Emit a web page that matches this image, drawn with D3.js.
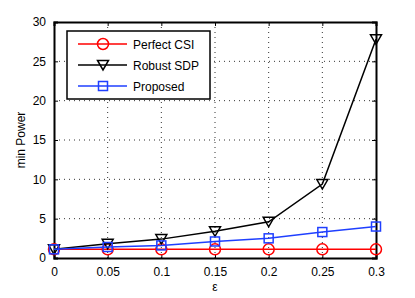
<!DOCTYPE html>
<html>
<head>
<meta charset="utf-8">
<script src="https://cdn.jsdelivr.net/npm/d3@7"></script>
<style>
  body { margin: 0; background: #fff; }
  text { font-family: "Liberation Sans", Arial, sans-serif; }
</style>
</head>
<body>
<div id="chart"></div>
<script>
// data
var epsilon = [0, 0.05, 0.1, 0.15, 0.2, 0.25, 0.3];
var perfectCSI = [1.1, 1.1, 1.1, 1.1, 1.1, 1.1, 1.1];
var robustSDP = [1.1, 1.8, 2.4, 3.4, 4.6, 9.4, 27.8];
var proposed = [1.1, 1.4, 1.6, 2.1, 2.5, 3.3, 4.0];
var xTicks = [0, 0.05, 0.1, 0.15, 0.2, 0.25, 0.3];
var yTicks = [0, 5, 10, 15, 20, 25, 30];
var seriesNames = ["Perfect CSI", "Robust SDP", "Proposed"];

var svgWidth = 415;
var svgHeight = 298;
var margin = { top: 22, right: 39, bottom: 40, left: 54 };
var width = svgWidth - margin.left - margin.right;
var height = svgHeight - margin.top - margin.bottom;

var svg = d3.select("#chart")
    .append("svg")
    .attr("width", svgWidth)
    .attr("height", svgHeight);

var g = svg.append("g")
    .attr("transform", `translate(${margin.left}, ${margin.top})`);

var x = d3.scaleLinear().domain([0, 0.3]).range([0, width]);
var y = d3.scaleLinear().domain([0, 30]).range([height, 0]);

// dotted grid
g.append("g").selectAll("line")
    .data(xTicks.slice(1, -1))
    .enter().append("line")
    .attr("x1", d => x(d)).attr("x2", d => x(d))
    .attr("y1", 0).attr("y2", height)
    .attr("stroke", "#333").attr("stroke-width", 1)
    .attr("stroke-dasharray", "1,4");

g.append("g").selectAll("line")
    .data(yTicks.slice(1, -1))
    .enter().append("line")
    .attr("y1", d => y(d)).attr("y2", d => y(d))
    .attr("x1", 0).attr("x2", width)
    .attr("stroke", "#333").attr("stroke-width", 1)
    .attr("stroke-dasharray", "1,4");

// axes with inward ticks
var bottomAxis = d3.axisBottom(x).tickValues(xTicks).tickSize(-4).tickPadding(9)
    .tickFormat(d => d3.format("")(d));
var leftAxis = d3.axisLeft(y).tickValues(yTicks).tickSize(-4).tickPadding(8);
var topAxis = d3.axisTop(x).tickValues(xTicks).tickSize(-4).tickFormat("");
var rightAxis = d3.axisRight(y).tickValues(yTicks).tickSize(-4).tickFormat("");

function styleAxis(sel) {
    sel.selectAll("path").attr("stroke", "#000").attr("stroke-width", 2);
    sel.selectAll("line").attr("stroke", "#000");
    sel.selectAll("text").attr("font-size", 12).attr("fill", "#000")
        .style("font-family", "'Liberation Sans', Arial, sans-serif");
}

g.append("g").attr("transform", `translate(0, ${height})`).call(bottomAxis).call(styleAxis);
g.append("g").call(leftAxis).call(styleAxis);
g.append("g").call(topAxis).call(styleAxis);
g.append("g").attr("transform", `translate(${width}, 0)`).call(rightAxis).call(styleAxis);

// axis labels
svg.append("text")
    .attr("x", margin.left + width / 2)
    .attr("y", 291)
    .attr("text-anchor", "middle")
    .attr("font-size", 12)
    .text("ε");

svg.append("text")
    .attr("transform", `translate(25, ${margin.top + height / 2}) rotate(-90)`)
    .attr("text-anchor", "middle")
    .attr("font-size", 12)
    .text("min Power");

// series
var series = [
    { name: seriesNames[0], values: perfectCSI, color: "#ff0000", marker: "circle" },
    { name: seriesNames[1], values: robustSDP, color: "#000000", marker: "triangle" },
    { name: seriesNames[2], values: proposed, color: "#1f3fff", marker: "square" }
];

var line = d3.line()
    .x((d, i) => x(epsilon[i]))
    .y(d => y(d));

function drawMarker(sel, type, color) {
    if (type == "circle") {
        sel.append("circle").attr("r", 5.5)
            .attr("fill", "none").attr("stroke", color).attr("stroke-width", 1.5);
    } else if (type == "triangle") {
        sel.append("path").attr("d", "M-5.5,-4.5L5.5,-4.5L0,5Z")
            .attr("fill", "none").attr("stroke", color).attr("stroke-width", 1.5);
    } else {
        sel.append("rect").attr("x", -4.5).attr("y", -4.5).attr("width", 9).attr("height", 9)
            .attr("fill", "none").attr("stroke", color).attr("stroke-width", 1.5);
    }
}

series.forEach(function(s) {
    g.append("path")
        .datum(s.values)
        .attr("d", line)
        .attr("fill", "none")
        .attr("stroke", s.color)
        .attr("stroke-width", 1.5);

    s.values.forEach(function(v, i) {
        var m = g.append("g").attr("transform", `translate(${x(epsilon[i])}, ${y(v)})`);
        drawMarker(m, s.marker, s.color);
    });
});

// legend
var legend = svg.append("g").attr("transform", "translate(67, 31)");
legend.append("rect")
    .attr("width", 143).attr("height", 68)
    .attr("fill", "#fff").attr("stroke", "#000").attr("stroke-width", 1.5);

series.forEach(function(s, i) {
    var row = legend.append("g").attr("transform", `translate(0, ${13 + i * 21})`);
    row.append("line")
        .attr("x1", 11).attr("x2", 60)
        .attr("stroke", s.color).attr("stroke-width", 1.5);
    var m = row.append("g").attr("transform", "translate(36, 0)");
    drawMarker(m, s.marker, s.color);
    row.append("text")
        .attr("x", 66).attr("y", 4.5)
        .attr("font-size", 12)
        .text(s.name);
});
</script>
</body>
</html>
